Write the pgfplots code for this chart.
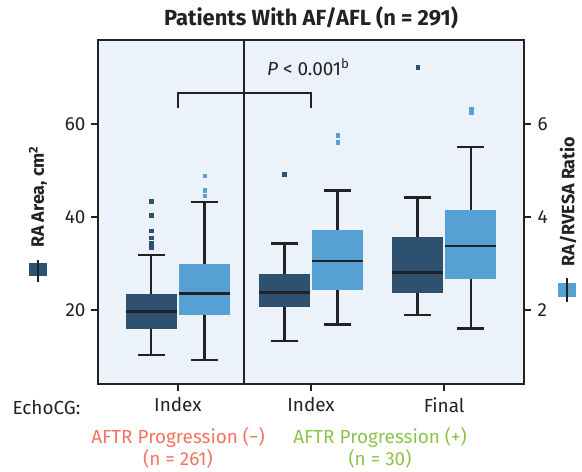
\documentclass[border=0pt]{standalone}
\usepackage{pgfplots}
\pgfplotsset{compat=1.18}
\usepgfplotslibrary{statistics}
\usepackage{fontspec}
\setmainfont{Fira Sans}
\definecolor{dkb}{HTML}{2F5170}
\definecolor{ltb}{HTML}{56A0D3}
\definecolor{bgb}{HTML}{EBF2FA}
\definecolor{axc}{HTML}{222222}
\definecolor{sal}{HTML}{F4725F}
\definecolor{grn}{HTML}{8CC34A}
\pgfplotsset{
  bx/.style={boxplot/every box/.style={draw=none, fill=#1},
             mark=square*, mark size=1.9bp, mark options={solid, line width=0.1bp, draw=#1, fill=#1}},
}
\begin{document}
\begin{tikzpicture}[font=\fontsize{18}{21}\selectfont]
\path[use as bounding box] (-98bp,-88bp) rectangle (484bp,384bp);
\begin{axis}[at={(0,0)}, anchor=south west, scale only axis,
  width=426bp, height=344bp,
  xmin=-0.6, xmax=2.6, ymin=4.09, ymax=78.06,
  xtick={0,1,2}, xticklabels={Index,Index,Final},
  ytick={20,40,60}, ytick pos=left, xtick pos=bottom,
  tick align=outside, major tick length=7bp,
  axis line style={line width=2.2bp, draw=axc},
  every tick/.style={line width=2.2bp, draw=axc},
  axis background/.style={fill=bgb},
  tick label style={font=\fontsize{19}{22}\selectfont, text=axc},
  yticklabel style={xshift=-2bp},
  xticklabel style={yshift=-3bp},
  /pgf/number format/assume math mode=true,
  clip=false,
  boxplot/draw direction=y,
  boxplot/box extend=0.38, boxplot/whisker extend=0.2,
  boxplot/every whisker/.style={draw=axc, line width=2.3bp, fill=none},
  boxplot/every median/.style={draw=axc, line width=2.5bp},
]
% group 1: AFTR progression (-), index
\addplot[bx=dkb, boxplot prepared={draw position=-0.2,
  lower whisker=10.3, lower quartile=16.0, median=19.7,
  upper quartile=23.4, upper whisker=31.8}]
  table[row sep=\\, y index=0] {data\\ 43.5\\ 40.4\\ 37.1\\ 35.6\\ 34.5\\ 33.5\\};
\addplot[bx=ltb, boxplot prepared={draw position=0.2,
  lower whisker=9.2, lower quartile=19.0, median=23.5,
  upper quartile=29.8, upper whisker=43.2}]
  table[row sep=\\, y index=0] {data\\ 48.9\\ 45.8\\ 44.6\\};
% group 2: AFTR progression (+), index
\addplot[bx=dkb, boxplot prepared={draw position=0.8,
  lower whisker=13.4, lower quartile=20.7, median=23.8,
  upper quartile=27.7, upper whisker=34.3}]
  table[row sep=\\, y index=0] {data\\ 49.2\\};
\addplot[bx=ltb, boxplot prepared={draw position=1.2,
  lower whisker=16.9, lower quartile=24.4, median=30.5,
  upper quartile=37.1, upper whisker=45.7}]
  table[row sep=\\, y index=0] {data\\ 57.6\\ 56.2\\};
% group 3: AFTR progression (+), final
\addplot[bx=dkb, boxplot prepared={draw position=1.8,
  lower whisker=18.9, lower quartile=23.6, median=28.1,
  upper quartile=35.8, upper whisker=44.2}]
  table[row sep=\\, y index=0] {data\\ 72.3\\};
\addplot[bx=ltb, boxplot prepared={draw position=2.2,
  lower whisker=16.0, lower quartile=26.7, median=33.8,
  upper quartile=41.4, upper whisker=55.1}]
  table[row sep=\\, y index=0] {data\\ 63.3\\ 62.5\\};
\draw[line width=2bp, axc] (axis cs:0.5,4.09) -- (axis cs:0.5,78.06);
\draw[line width=2.3bp, axc] (axis cs:0,63.5) -- (axis cs:0,66.7) -- (axis cs:1,66.7) -- (axis cs:1,63.5);
\node[text=axc, font=\fontsize{19}{22}\selectfont] at (axis cs:0.98,72.2) {\textit{P} < 0.001\textsuperscript{b}};
\end{axis}
\begin{axis}[at={(0,0)}, anchor=south west, scale only axis,
  width=426bp, height=344bp,
  xmin=-0.6, xmax=2.6, ymin=0.409, ymax=7.806,
  axis y line*=right, axis x line=none,
  ytick={2,4,6}, tick align=outside, major tick length=7bp,
  axis line style={line width=2.2bp, draw=axc},
  every tick/.style={line width=2.2bp, draw=axc},
  tick label style={font=\fontsize{19}{22}\selectfont, text=axc},
  yticklabel style={xshift=3bp},
  /pgf/number format/assume math mode=true,
]
\addplot[draw=none] coordinates {(0,1)};
\end{axis}
% title and outer labels
\node[font=\bfseries\fontsize{22}{26}\selectfont, text=axc] at (213bp,366bp) {Patients With AF/AFL (n = 291)};
\node[rotate=90, text=axc, font=\bfseries\fontsize{18}{21}\selectfont] at (-60bp,187bp) {RA Area, cm\textsuperscript{2}};
\fill[dkb] (-69bp,107.5bp) rectangle (-51bp,120.5bp);
\draw[axc, line width=1.5bp] (-60bp,102bp) -- (-60bp,124bp);
\node[rotate=90, text=axc, font=\bfseries\fontsize{18}{21}\selectfont] at (470bp,182.5bp) {RA/RVESA Ratio};
\fill[ltb] (460bp,87bp) rectangle (478bp,101bp);
\draw[axc, line width=1.5bp] (469bp,82bp) -- (469bp,106bp);
\node[text=axc, font=\fontsize{19}{22}\selectfont] at (-51.5bp,-24bp) {EchoCG:};
\node[text=sal, font=\fontsize{19}{22}\selectfont] at (80bp,-54bp) {AFTR Progression (−)};
\node[text=sal, font=\fontsize{19}{22}\selectfont] at (80bp,-75bp) {(n = 261)};
\node[text=grn, font=\fontsize{19}{22}\selectfont] at (282bp,-54bp) {AFTR Progression (+)};
\node[text=grn, font=\fontsize{19}{22}\selectfont] at (282bp,-75bp) {(n = 30)};
\end{tikzpicture}
\end{document}
